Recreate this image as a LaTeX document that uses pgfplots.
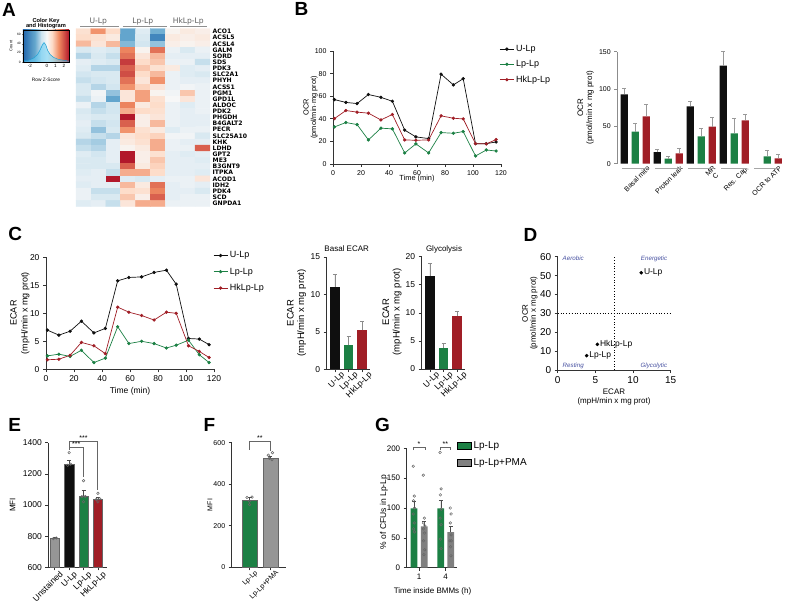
\documentclass[border=0pt]{standalone}
\usepackage{pgfplots}
\pgfplotsset{compat=1.18}
\usetikzlibrary{calc}
\usepackage{fontspec}
\setmainfont{Liberation Sans}
\newfontfamily\genefont{DejaVu Sans}
\definecolor{cgreen}{RGB}{28,128,68}
\definecolor{cred}{RGB}{160,30,38}
\definecolor{cblk}{RGB}{15,15,15}
\definecolor{cgry}{RGB}{150,150,150}
\definecolor{quad}{RGB}{70,80,160}
\definecolor{hdr}{RGB}{95,95,95}
\definecolor{k1}{RGB}{33,102,172}
\definecolor{k2}{RGB}{103,169,207}
\definecolor{k3}{RGB}{209,229,240}
\definecolor{k4}{RGB}{247,247,247}
\definecolor{k5}{RGB}{253,219,199}
\definecolor{k6}{RGB}{239,138,98}
\definecolor{k7}{RGB}{178,24,43}
\newcommand{\fs}[1]{\fontsize{#1}{#1}\selectfont}

\pgfplotsset{
  gp/.style={scale only axis, axis x line*=bottom, axis y line*=left,
    axis line style={line width=0.7pt, black!80},
    tick style={line width=0.7pt, black!80},
    tick align=outside, major tick length=3pt,
    /pgf/number format/assume math mode=true,
    /pgf/number format/1000 sep={},
    enlargelimits=false, clip=false},
  errb/.style={error bars/.cd, y dir=plus, y explicit,
    error bar style={line width=0.6pt, #1},
    error mark options={rotate=90, mark size=2pt, line width=0.6pt, #1}},
  dots/.style={only marks, mark=o, mark size=1.3pt, mark options={line width=0.5pt, black!60}},
}

\begin{document}
\begin{tikzpicture}
\useasboundingbox (0pt,0pt) rectangle (800pt,611pt);

% ---------------- panel letters
\foreach \L/\X/\Y in {A/2/3, B/294.3/2.7, C/8.3/226.7, D/523.3/228.3, E/8.3/418.3, F/203.3/418.3, G/375/418.3}
  \node[anchor=north west, inner sep=0pt, font=\fs{19}\bfseries] at (\X pt, 611pt-\Y pt) {\L};

% ---------------- A: heatmap
\begin{axis}[scale only axis, at={(76pt,611pt-206.5pt)}, anchor=south west,
  width=134pt, height=178pt, xmin=0.5, xmax=9.5, ymin=0.5, ymax=29.5,
  y dir=reverse, enlargelimits=false, clip=false,
  axis line style={draw=none}, xtick=\empty, ytick={1,...,29},
  yticklabels={ACO1,ACSL5,ACSL4,GALM,SORD,SDS,PDK3,SLC2A1,PHYH,ACSS1,PGM1,GPD1L,ALDOC,PDK2,PHGDH,B4GALT2,PECR,SLC25A10,KHK,LDHD,GPT2,ME3,B3GNT9,ITPKA,ACOD1,IDH2,PDK4,SCD,GNPDA1},
  yticklabel pos=right, major tick length=0pt,
  yticklabel style={font=\genefont\fs{6.1}\bfseries, anchor=west, inner sep=0pt, xshift=2.5pt},
  colormap={rdbu}{rgb255=(33,102,172) rgb255=(103,169,207) rgb255=(209,229,240) rgb255=(247,247,247) rgb255=(253,219,199) rgb255=(239,138,98) rgb255=(178,24,43)},
  point meta min=-1.9, point meta max=1.9]
\addplot[matrix plot*, mesh/cols=9, point meta=explicit] coordinates {
(1,1) [0.5] (2,1) [1.2] (3,1) [0.6] (4,1) [-1.3] (5,1) [-0.4] (6,1) [-1.2] (7,1) [0.1] (8,1) [0.3] (9,1) [0.2]
(1,2) [0.6] (2,2) [0.5] (3,2) [0.3] (4,2) [-1.3] (5,2) [-0.5] (6,2) [-1.6] (7,2) [0.3] (8,2) [0.2] (9,2) [0.3]
(1,3) [0.9] (2,3) [0.4] (3,3) [0.9] (4,3) [-1.1] (5,3) [-0.6] (6,3) [-1.0] (7,3) [0.2] (8,3) [0.1] (9,3) [0.2]
(1,4) [-0.5] (2,4) [-0.4] (3,4) [-0.5] (4,4) [1.3] (5,4) [0.1] (6,4) [1.4] (7,4) [-0.2] (8,4) [-0.5] (9,4) [-0.2]
(1,5) [-0.8] (2,5) [-0.5] (3,5) [-0.7] (4,5) [1.4] (5,5) [0.4] (6,5) [0.9] (7,5) [-0.3] (8,5) [-0.3] (9,5) [-0.3]
(1,6) [-0.3] (2,6) [-0.4] (3,6) [-0.5] (4,6) [1.7] (5,6) [0.6] (6,6) [0.8] (7,6) [-0.2] (8,6) [-0.2] (9,6) [-0.7]
(1,7) [-0.4] (2,7) [-0.8] (3,7) [-0.8] (4,7) [1.5] (5,7) [0.8] (6,7) [0.5] (7,7) [0.3] (8,7) [-0.4] (9,7) [-0.3]
(1,8) [-0.6] (2,8) [-0.5] (3,8) [-0.5] (4,8) [1.6] (5,8) [0.6] (6,8) [0.9] (7,8) [-0.2] (8,8) [-0.4] (9,8) [-0.5]
(1,9) [-0.7] (2,9) [-0.6] (3,9) [-0.5] (4,9) [1.4] (5,9) [0.4] (6,9) [1.2] (7,9) [-0.2] (8,9) [-0.3] (9,9) [-0.3]
(1,10) [-0.5] (2,10) [-0.8] (3,10) [-0.6] (4,10) [1.2] (5,10) [0.7] (6,10) [0.4] (7,10) [-0.2] (8,10) [-0.1] (9,10) [-0.2]
(1,11) [-0.5] (2,11) [-0.1] (3,11) [-1.0] (4,11) [0.4] (5,11) [1.1] (6,11) [0.1] (7,11) [-0.1] (8,11) [0.8] (9,11) [-0.2]
(1,12) [-0.7] (2,12) [-0.2] (3,12) [-1.3] (4,12) [0.4] (5,12) [1.1] (6,12) [0.5] (7,12) [0.0] (8,12) [0.4] (9,12) [-0.2]
(1,13) [-0.2] (2,13) [-0.8] (3,13) [-0.6] (4,13) [1.3] (5,13) [0.3] (6,13) [0.6] (7,13) [-0.2] (8,13) [-0.4] (9,13) [-0.2]
(1,14) [-0.5] (2,14) [-0.7] (3,14) [-0.6] (4,14) [1.0] (5,14) [0.6] (6,14) [0.5] (7,14) [-0.2] (8,14) [-0.3] (9,14) [-0.2]
(1,15) [-0.4] (2,15) [-0.5] (3,15) [-0.5] (4,15) [2.3] (5,15) [0.2] (6,15) [0.4] (7,15) [-0.2] (8,15) [-0.3] (9,15) [-0.3]
(1,16) [-0.3] (2,16) [-0.7] (3,16) [-0.6] (4,16) [1.5] (5,16) [0.2] (6,16) [0.9] (7,16) [-0.2] (8,16) [-0.3] (9,16) [-0.3]
(1,17) [-0.4] (2,17) [-1.0] (3,17) [-0.5] (4,17) [1.2] (5,17) [0.5] (6,17) [0.3] (7,17) [-0.4] (8,17) [-0.2] (9,17) [-0.2]
(1,18) [-0.5] (2,18) [-0.7] (3,18) [-0.8] (4,18) [0.4] (5,18) [0.6] (6,18) [0.7] (7,18) [-0.1] (8,18) [-0.1] (9,18) [-0.5]
(1,19) [-0.8] (2,19) [-0.9] (3,19) [-0.3] (4,19) [0.3] (5,19) [0.5] (6,19) [1.0] (7,19) [-0.2] (8,19) [-0.3] (9,19) [-0.3]
(1,20) [-0.7] (2,20) [-0.8] (3,20) [-0.3] (4,20) [0.1] (5,20) [0.3] (6,20) [1.0] (7,20) [-0.2] (8,20) [-0.2] (9,20) [1.5]
(1,21) [-0.4] (2,21) [-0.6] (3,21) [-0.3] (4,21) [2.0] (5,21) [0.2] (6,21) [0.5] (7,21) [-0.3] (8,21) [-0.4] (9,21) [-0.3]
(1,22) [-0.5] (2,22) [-0.5] (3,22) [-0.3] (4,22) [2.0] (5,22) [0.2] (6,22) [0.8] (7,22) [-0.3] (8,22) [-0.3] (9,22) [-0.4]
(1,23) [-0.5] (2,23) [-0.5] (3,23) [-0.5] (4,23) [1.5] (5,23) [0.3] (6,23) [0.7] (7,23) [-0.3] (8,23) [-0.3] (9,23) [-0.3]
(1,24) [-0.4] (2,24) [-0.3] (3,24) [-0.7] (4,24) [1.0] (5,24) [1.0] (6,24) [0.6] (7,24) [-0.3] (8,24) [-0.3] (9,24) [-0.4]
(1,25) [-0.3] (2,25) [-0.3] (3,25) [2.2] (4,25) [-0.4] (5,25) [-0.5] (6,25) [-0.3] (7,25) [-0.2] (8,25) [-0.2] (9,25) [0.4]
(1,26) [-0.4] (2,26) [-0.3] (3,26) [-0.3] (4,26) [0.9] (5,26) [0.3] (6,26) [1.4] (7,26) [-0.3] (8,26) [-0.2] (9,26) [-0.3]
(1,27) [-0.2] (2,27) [-0.7] (3,27) [-0.7] (4,27) [0.6] (5,27) [0.5] (6,27) [1.3] (7,27) [-0.3] (8,27) [-0.3] (9,27) [-0.5]
(1,28) [-0.2] (2,28) [-0.5] (3,28) [-0.5] (4,28) [0.8] (5,28) [0.2] (6,28) [1.5] (7,28) [-0.3] (8,28) [-0.2] (9,28) [-0.2]
(1,29) [-0.4] (2,29) [-0.3] (3,29) [-0.7] (4,29) [0.4] (5,29) [1.0] (6,29) [1.0] (7,29) [-0.2] (8,29) [-0.2] (9,29) [-0.2]
};
\end{axis}
% group headers
\foreach \T/\X/\a/\b in {U-Lp/98.3/80/119.3, Lp-Lp/142.7/122.7/166.7, HkLp-Lp/188.3/170/207.3}{
  \node[font=\genefont\fs{7.6}, text=hdr] at (\X pt, 611pt-21.5pt) {\T};
  \draw[hdr!70, line width=0.6pt] (\a pt, 611pt-26.7pt) -- (\b pt, 611pt-26.7pt);
}

% color key
\begin{axis}[scale only axis, at={(23pt,611pt-62pt)}, anchor=south west,
  width=46pt, height=32pt, xmin=-2.8, xmax=2.6, ymin=0, ymax=70,
  enlargelimits=false, axis on top, xtick={-2,0,1,2}, ytick={0,20,40,60},
  major tick length=1.2pt, tick align=outside, axis line style={line width=0.4pt},
  tick style={line width=0.4pt},
  xticklabel style={font=\fs{4.6}, inner sep=1pt}, yticklabel style={font=\fs{3.2}, inner sep=1pt},
  /pgf/number format/assume math mode=true]
\shade[left color=k1, right color=k2] (axis cs:-2.8,0) rectangle (axis cs:-1.4,70);
\shade[left color=k2, right color=k3] (axis cs:-1.4,0) rectangle (axis cs:-0.6,70);
\shade[left color=k3, right color=k4] (axis cs:-0.6,0) rectangle (axis cs:0,70);
\shade[left color=k4, right color=k5] (axis cs:0,0) rectangle (axis cs:0.6,70);
\shade[left color=k5, right color=k6] (axis cs:0.6,0) rectangle (axis cs:1.4,70);
\shade[left color=k6, right color=k7] (axis cs:1.4,0) rectangle (axis cs:2.6,70);
\addplot[draw=none, fill=cyan!60, fill opacity=0.55] coordinates {(-2.8,0) (-2.5,2) (-2,4) (-1.5,9) (-1,20) (-0.7,34) (-0.4,44) (-0.2,40) (0,30) (0.3,19) (0.6,13) (1,8) (1.5,5) (2,3) (2.6,1) (2.6,0)} \closedcycle;
\addplot[cyan!85!black, line width=0.5pt] coordinates {(-2.8,3) (-2.2,4) (-1.6,8) (-1.1,16) (-0.8,26) (-0.5,38) (-0.3,42) (-0.1,36) (0.1,25) (0.4,16) (0.8,10) (1.3,6) (1.9,4) (2.6,2)};
\end{axis}
\node[font=\fs{5.7}\bfseries, align=center, inner sep=0pt] at (46pt, 611pt-23.5pt) {Color Key\\and Histogram};
\node[font=\fs{4.8}] at (46pt, 611pt-79.5pt) {Row Z-Score};
\node[font=\fs{4}, rotate=90] at (11pt, 611pt-46pt) {Count};

% ---------------- B: OCR time course
\begin{axis}[gp, at={(333pt,611pt-164pt)}, anchor=south west, width=168pt, height=113pt,
  xmin=0, xmax=120, ymin=0, ymax=100, xtick={0,20,...,120}, ytick={0,20,...,100},
  tick label style={font=\fs{7}},
  legend style={at={(0.99,1.07)}, anchor=north west, draw=none, fill=none, font=\fs{9}, row sep=3.5pt, inner sep=0pt},
  legend cell align=left,
  legend image code/.code={\draw[mark repeat=2,mark phase=2,#1] plot coordinates {(0pt,0pt)(7pt,0pt)(14pt,0pt)};}]
\addplot[cblk, line width=0.7pt, mark=*, mark size=1.3pt] coordinates {(1,57) (9.2,54.5) (17.2,53.5) (25.3,61.5) (34.2,59) (42.4,55.5) (51.2,30) (59.2,24) (68.3,22.5) (77.2,79.5) (86,70) (93,75.5) (101.8,18) (109.5,18) (116.5,19.5)};
\addplot[cgreen, line width=0.7pt, mark=*, mark size=1.3pt] coordinates {(1,32.8) (9.2,36.7) (17.2,34.9) (25.3,21.3) (34.2,31.7) (42.4,31.1) (51.2,9.8) (59.2,17.8) (68.3,9.8) (77.2,27.8) (86,27.2) (93,28.7) (101.8,7.1) (109.5,12.4) (116.5,11.5)};
\addplot[cred, line width=0.7pt, mark=*, mark size=1.3pt] coordinates {(1,40.2) (9.2,47.3) (17.2,45.9) (25.3,45) (34.2,39) (42.4,43.8) (51.2,21.3) (59.2,21) (68.3,21.3) (77.2,42.6) (86,40.5) (93,39.9) (101.8,18) (109.5,17.8) (116.5,21.6)};
\legend{U-Lp, Lp-Lp, HkLp-Lp}
\end{axis}
\node[font=\fs{7.4}, rotate=90, align=center, inner sep=0pt] at (310.5pt, 611pt-107.5pt) {OCR\\(pmol/min$\cdot$mg prot)};
\node[font=\fs{7.4}] at (417pt, 611pt-179pt) {Time (min)};

% ---------------- B: OCR parameters
\begin{axis}[gp, at={(617.3pt,611pt-163.7pt)}, anchor=south west, width=166.5pt, height=112pt,
  xmin=0.455, xmax=5.5, ymin=0, ymax=150, ytick={0,50,100,150},
  axis line style={line width=0.7pt, black!45}, ytick style={line width=0.7pt, black!45},
  x axis line style={draw=none}, xtick style={draw=none},
  xtick={1,...,5}, xticklabels={Basal mito, Proton leak, {MR\\C}, Res. Cap., OCR to ATP},
  tick label style={font=\fs{7}},
  xticklabel style={rotate=45, anchor=north east, align=center, inner sep=0pt, xshift=9pt, yshift=-7pt}]
\addplot[ybar, bar shift=0pt, bar width=7.3pt, fill=cblk, draw=none, errb=black!40] coordinates {(0.667,92.9) +- (0,8) (1.667,15.6) +- (0,3.6) (2.667,76.8) +- (0,6.7) (3.667,131.3) +- (0,18.7)};
\addplot[ybar, bar shift=0pt, bar width=7.3pt, fill=cgreen, draw=none, errb=black!40] coordinates {(1,42.9) +- (0,11.6) (2,6.7) +- (0,3) (3,36.6) +- (0,10.7) (4,40.6) +- (0,20.5) (5,9.8) +- (0,7.6)};
\addplot[ybar, bar shift=0pt, bar width=7.3pt, fill=cred, draw=none, errb=black!40] coordinates {(1.333,63.4) +- (0,16) (2.333,13.8) +- (0,6.7) (3.333,49.6) +- (0,12) (4.333,58) +- (0,7.6) (5.333,7.1) +- (0,5.8)};
\draw[black!35, line width=0.8pt] (axis cs:0.61,-6) -- (axis cs:1.39,-6);
\draw[black!35, line width=0.8pt] (axis cs:1.61,-6) -- (axis cs:2.39,-6);
\draw[black!35, line width=0.8pt] (axis cs:2.61,-6) -- (axis cs:3.39,-6);
\draw[black!35, line width=0.8pt] (axis cs:3.61,-6) -- (axis cs:4.39,-6);
\draw[black!35, line width=0.8pt] (axis cs:4.61,-6) -- (axis cs:5.39,-6);
\end{axis}
\node[font=\fs{8}, rotate=90, align=center, inner sep=0pt] at (585.7pt, 611pt-107.7pt) {OCR\\[1pt](pmol/min x mg prot)};

% ---------------- C: ECAR time course
\begin{axis}[gp, at={(46pt,611pt-369.3pt)}, anchor=south west, width=168pt, height=112pt,
  xmin=0, xmax=120, ymin=0, ymax=20, xtick={0,20,...,120}, ytick={0,5,...,20},
  tick label style={font=\fs{8.5}},
  legend style={at={(0.994,1.07)}, anchor=north west, draw=none, fill=none, font=\fs{9}, row sep=4.5pt, inner sep=0pt},
  legend cell align=left,
  legend image code/.code={\draw[mark repeat=2,mark phase=2,#1] plot coordinates {(0pt,0pt)(7pt,0pt)(14pt,0pt)};}]
\addplot[cblk, line width=0.7pt, mark=*, mark size=1.3pt] coordinates {(1,7.0) (9.2,6.1) (17.2,6.8) (25.3,8.6) (34.2,6.5) (42.4,7.3) (51.2,15.8) (59.2,16.4) (68.3,16.5) (77.2,17.3) (86,17.7) (93,15.2) (101.8,5.5) (109.5,5.4) (116.5,4.4)};
\addplot[cgreen, line width=0.7pt, mark=*, mark size=1.3pt] coordinates {(1,2.4) (9.2,2.7) (17.2,2.3) (25.3,3.4) (34.2,1.2) (42.4,2.0) (51.2,7.6) (59.2,4.6) (68.3,5.0) (77.2,4.6) (86,3.8) (93,4.3) (101.8,5.2) (109.5,2.6) (116.5,1.2)};
\addplot[cred, line width=0.7pt, mark=*, mark size=1.3pt] coordinates {(1,1.7) (9.2,1.8) (17.2,2.5) (25.3,4.8) (34.2,4.2) (42.4,2.8) (51.2,11.1) (59.2,10.2) (68.3,9.6) (77.2,8.8) (86,10.2) (93,10.0) (101.8,4.2) (109.5,3.2) (116.5,2.1)};
\legend{U-Lp, Lp-Lp, HkLp-Lp}
\end{axis}
\node[font=\fs{9}, rotate=90, align=center, inner sep=0pt] at (20pt, 611pt-313pt) {ECAR\\[2pt](mpH/min x mg prot)};
\node[font=\fs{8.5}] at (130pt, 611pt-391pt) {Time (min)};

% ---------------- C: Basal ECAR
\begin{axis}[gp, at={(326.7pt,611pt-369.3pt)}, anchor=south west, width=43pt, height=112.3pt,
  xmin=0.4, xmax=3.55, ymin=0, ymax=15, ytick={0,5,10,15}, xtick={1,2,3},
  xticklabels={U-Lp,Lp-Lp,HkLp-Lp}, tick label style={font=\fs{8.5}},
  xticklabel style={rotate=45, anchor=north east, inner sep=0pt, xshift=5pt, yshift=-3pt}]
\addplot[ybar, bar shift=0pt, bar width=9.5pt, fill=cblk, draw=none, errb=black!45] coordinates {(1,11.0) +- (0,1.7)};
\addplot[ybar, bar shift=0pt, bar width=9.5pt, fill=cgreen, draw=none, errb=black!45] coordinates {(2,3.2) +- (0,1.2)};
\addplot[ybar, bar shift=0pt, bar width=9.5pt, fill=cred, draw=none, errb=black!45] coordinates {(3,5.2) +- (0,1.2)};
\end{axis}
\node[font=\fs{8}] at (346.7pt, 611pt-248.3pt) {Basal ECAR};
\node[font=\fs{9.5}, rotate=90, align=center, inner sep=0pt] at (296.5pt, 611pt-313pt) {ECAR\\[1pt](mpH/min x mg prot)};

% ---------------- C: Glycolysis
\begin{axis}[gp, at={(421.7pt,611pt-369pt)}, anchor=south west, width=43pt, height=112.3pt,
  xmin=0.4, xmax=3.55, ymin=0, ymax=20, ytick={0,5,...,20}, xtick={1,2,3},
  xticklabels={U-Lp,Lp-Lp,HkLp-Lp}, tick label style={font=\fs{8.5}},
  xticklabel style={rotate=45, anchor=north east, inner sep=0pt, xshift=5pt, yshift=-3pt}]
\addplot[ybar, bar shift=0pt, bar width=9.5pt, fill=cblk, draw=none, errb=black!45] coordinates {(1,16.6) +- (0,2.2)};
\addplot[ybar, bar shift=0pt, bar width=9.5pt, fill=cgreen, draw=none, errb=black!45] coordinates {(2,3.75) +- (0,0.75)};
\addplot[ybar, bar shift=0pt, bar width=9.5pt, fill=cred, draw=none, errb=black!45] coordinates {(3,9.4) +- (0,0.9)};
\end{axis}
\node[font=\fs{8}] at (444pt, 611pt-249pt) {Glycolysis};
\node[font=\fs{9.5}, rotate=90, align=center, inner sep=0pt] at (392pt, 611pt-312pt) {ECAR\\[1pt](mpH/min x mg prot)};

% ---------------- D: energy map
\begin{axis}[gp, at={(557.7pt,611pt-370pt)}, anchor=south west, width=113pt, height=113.3pt,
  xmin=0, xmax=15, ymin=0, ymax=60, xtick={0,5,10,15}, ytick={0,10,...,60},
  tick label style={font=\fs{10}}]
\draw[dotted, line width=0.8pt] (axis cs:7.5,0) -- (axis cs:7.5,60);
\draw[dotted, line width=0.8pt] (axis cs:0,30) -- (axis cs:15,30);
\node[text=quad, font=\fs{6.2}\itshape, anchor=west] at (axis cs:0.2,59) {Aerobic};
\node[text=quad, font=\fs{6.2}\itshape, anchor=east] at (axis cs:15,59) {Energetic};
\node[text=quad, font=\fs{6.2}\itshape, anchor=west] at (axis cs:0.2,2.4) {Resting};
\node[text=quad, font=\fs{6.2}\itshape, anchor=east] at (axis cs:15,2.4) {Glycolytic};
\addplot[only marks, mark=*, mark size=1.6pt, black, nodes near coords,
  point meta=explicit symbolic,
  nodes near coords style={anchor=west, font=\fs{8.5}, inner sep=2.5pt}]
  coordinates {(11.1,51.5) [U-Lp] (5.27,13.6) [HkLp-Lp] (3.85,7.6) [Lp-Lp]};
\end{axis}
\node[font=\fs{8}, rotate=90, align=center, inner sep=0pt] at (530pt, 611pt-313.3pt) {OCR\\(pmol/min x mg prot)};
\node[font=\fs{8}, align=center, inner sep=0pt] at (614pt, 611pt-397pt) {ECAR\\[1pt](mpH/min x mg prot)};

% ---------------- E: MFI
\begin{axis}[gp, clip=true, at={(48.3pt,611pt-567.3pt)}, anchor=south west, width=59pt, height=124.6pt,
  xmin=0.55, xmax=4.65, ymin=600, ymax=1400, ytick={600,800,...,1400}, xtick={1,2,3,4},
  xticklabels={Unstained,U-Lp,Lp-Lp,HkLp-Lp}, tick label style={font=\fs{8.5}},
  xticklabel style={rotate=45, anchor=north east, inner sep=0pt, xshift=3pt, yshift=-3pt}]
\addplot[ybar, bar shift=0pt, bar width=9.3pt, fill=cgry, draw=black!60, line width=0.4pt, errb=black!70] coordinates {(1,786) +- (0,9)};
\addplot[ybar, bar shift=0pt, bar width=9.3pt, fill=cblk, draw=black!60, line width=0.4pt, errb=black!70] coordinates {(2,1263) +- (0,21)};
\addplot[ybar, bar shift=0pt, bar width=9.3pt, fill=cgreen, draw=black!60, line width=0.4pt, errb=black!70] coordinates {(3,1058) +- (0,38)};
\addplot[ybar, bar shift=0pt, bar width=9.3pt, fill=cred, draw=black!60, line width=0.4pt, errb=black!70] coordinates {(4,1036) +- (0,13)};
\addplot[dots] coordinates {(0.9,784) (1.1,788) (2,1336) (1.9,1255) (2.1,1262) (3,1156) (2.88,1054) (3.12,1054) (3,1021) (4,1075) (3.88,1035) (4.12,1040) (4,1020)};
\coordinate (ea) at (axis cs:2,1353);
\coordinate (eb) at (axis cs:2,1411);
\coordinate (ec) at (axis cs:3.98,1411);
\coordinate (ed) at (axis cs:3.98,1096);
\coordinate (ee) at (axis cs:2,1368);
\coordinate (ef) at (axis cs:2.98,1368);
\coordinate (eg) at (axis cs:2.98,1182);
\end{axis}
\draw[black!60, line width=0.6pt] (ea) -- (eb) -- (ec) -- (ed);
\draw[black!60, line width=0.6pt] (ee) -- (ef) -- (eg);
\node[font=\fs{7}, anchor=south, inner sep=0.5pt] at ($(eb)!0.5!(ec)$) {***};
\node[font=\fs{7}, anchor=south, inner sep=0.5pt] at ($(ee)!0.5!(ef)$) {***};
\node[font=\fs{8}, rotate=90] at (12.7pt, 611pt-505pt) {MFI};

% ---------------- F: MFI PMA
\begin{axis}[gp, at={(231.7pt,611pt-567.3pt)}, anchor=south west, width=54.3pt, height=124.6pt,
  xmin=0.144, xmax=2.75, ymin=0, ymax=600, ytick={0,200,400,600}, xtick={1,2},
  xticklabels={Lp-Lp,Lp-Lp+PMA}, tick label style={font=\fs{7}},
  xticklabel style={rotate=45, anchor=north east, inner sep=0pt, xshift=4pt, yshift=-3pt}]
\addplot[ybar, bar shift=0pt, bar width=15pt, fill=cgreen, draw=black!60, line width=0.4pt, errb=black!70] coordinates {(1,324) +- (0,13)};
\addplot[ybar, bar shift=0pt, bar width=15pt, fill=cgry, draw=black!60, line width=0.4pt, errb=black!70] coordinates {(2,523) +- (0,13)};
\addplot[dots] coordinates {(0.88,336) (1.12,338) (1,302) (1,318) (1.9,540) (2.1,552) (1.95,525) (2.08,518)};
\draw[black!60, line width=0.6pt] (axis cs:1,565) -- (axis cs:1,608) -- (axis cs:2,608) -- (axis cs:2,560);
\node[font=\fs{7}, anchor=south, inner sep=0.5pt] at (axis cs:1.5,608) {**};
\end{axis}
\node[font=\fs{7}, rotate=90] at (210pt, 611pt-505pt) {MFI};

% ---------------- G: CFUs
\begin{axis}[gp, at={(406.7pt,611pt-567.7pt)}, anchor=south west, width=50pt, height=119.4pt,
  xmin=0, xmax=50, ymin=0, ymax=200, ytick={0,50,...,200}, xtick={12.3,39},
  xticklabels={1,4}, tick label style={font=\fs{8}},
  legend style={at={(1.006,1.075)}, anchor=north west, draw=none, fill=none, font=\fs{10}, row sep=5pt, inner sep=0pt},
  legend cell align=left,
  legend image code/.code={\fill[#1] (0pt,-3.5pt) rectangle (14pt,4pt);}]
\addlegendimage{fill=cgreen}
\addlegendentry{Lp-Lp}
\addlegendimage{fill=black!50}
\addlegendentry{Lp-Lp+PMA}
\addplot[forget plot, ybar, bar shift=0pt, bar width=6.7pt, fill=cgreen, draw=none, errb=black!70] coordinates {(7.3,99.4) +- (0,11.2) (34.1,99.4) +- (0,14)};
\addplot[forget plot, ybar, bar shift=0pt, bar width=6.7pt, fill=black!50, draw=none, errb=black!70] coordinates {(17.6,69.3) +- (0,7.7) (44,59.8) +- (0,8.9)};
\addplot[forget plot, dots] coordinates {(6.6,170) (7.6,120) (6.8,112) (7.8,100) (6.6,90) (7.6,75) (6.8,65) (7.8,60)
 (16.6,155) (17.6,83) (16.8,75) (18.2,70) (16.6,65) (17.8,58) (16.8,45) (18.0,30) (17.2,22)
 (33.4,193) (34.4,132) (33.6,122) (34.6,98) (33.4,83) (34.4,72) (33.6,48) (34.4,32)
 (43.6,100) (44.4,90) (43.6,75) (44.4,55) (43.2,45) (44.6,45) (43.8,35) (44.2,20)};
\draw[black!60, line width=0.6pt] (axis cs:6.6,197) -- (axis cs:6.6,202) -- (axis cs:18.3,202) -- (axis cs:18.3,197);
\node[font=\fs{7}, anchor=south, inner sep=0.5pt] at (axis cs:12.4,202) {*};
\draw[black!60, line width=0.6pt] (axis cs:34,197) -- (axis cs:34,202) -- (axis cs:43.3,202) -- (axis cs:43.3,197);
\node[font=\fs{7}, anchor=south, inner sep=0.5pt] at (axis cs:38.6,202) {**};
\end{axis}
\node[font=\fs{8.5}, rotate=90] at (384pt, 611pt-512pt) {\% of CFUs in Lp-Lp};
\node[font=\fs{8}] at (432.5pt, 611pt-591.7pt) {Time inside BMMs (h)};
\end{tikzpicture}
\end{document}
